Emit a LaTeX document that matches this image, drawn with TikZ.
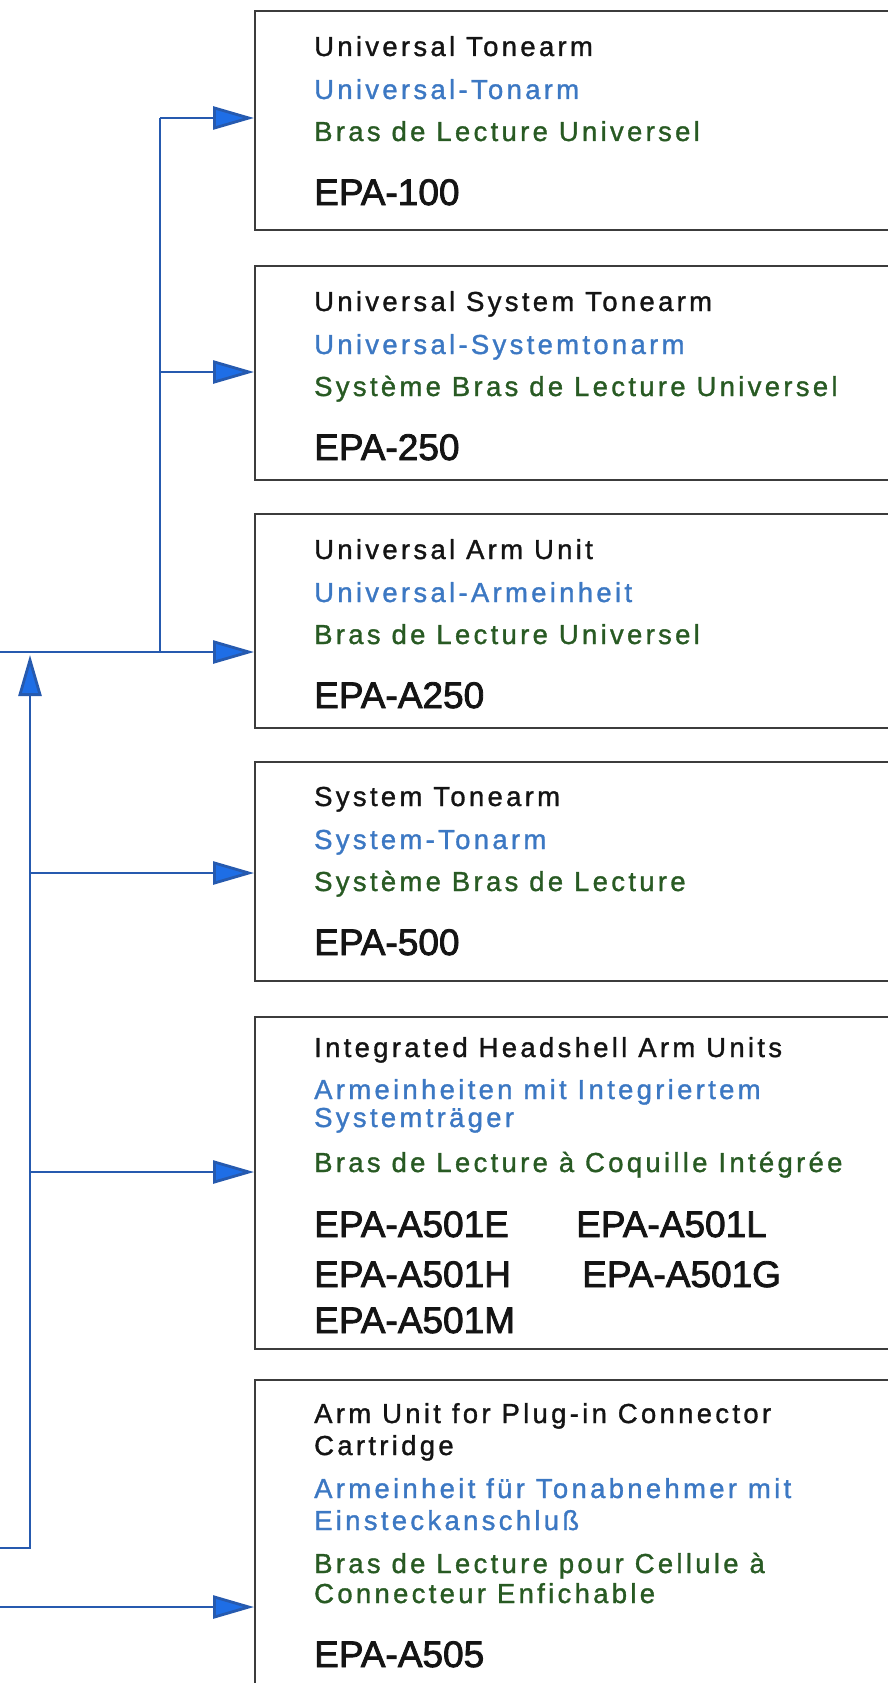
\documentclass[tikz,border=0pt]{standalone}
\usepackage{fontspec}
\setmainfont{Liberation Sans}
\newfontfamily\lblfont[LetterSpace=12,FakeBold=1.2]{Liberation Sans}
\newfontfamily\epafont[FakeBold=2.2]{Liberation Sans}
\usetikzlibrary{arrows.meta}
\definecolor{txtblack}{RGB}{20,20,20}
\definecolor{txtblue}{RGB}{60,120,195}
\definecolor{txtgreen}{RGB}{40,90,35}
\definecolor{linkblue}{RGB}{38,90,175}
\definecolor{headblue}{RGB}{30,110,230}
\definecolor{boxgray}{RGB}{60,60,60}
\begin{document}
\begin{tikzpicture}[x=1pt,y=-1pt,
  boxframe/.style={draw=boxgray, line width=1.8pt, anchor=north west, inner sep=0pt, minimum width=700pt},
  lbl/.style={anchor=base west, inner sep=0pt, font=\fontsize{27.5}{30}\lblfont},
  en/.style={lbl, text=txtblack},
  de/.style={lbl, text=txtblue},
  fr/.style={lbl, text=txtgreen},
  model/.style={anchor=base west, inner sep=0pt, font=\fontsize{37}{44}\epafont, text=txtblack},
  link/.style={draw=linkblue, line width=2.8pt},
  feed/.style={link, -{Triangle[length=41pt,width=23pt,fill=headblue]}},
]
\useasboundingbox (0,0) rectangle (888,1683);
\clip (0,0) rectangle (888,1683);

% boxes
\node[boxframe, minimum height=219pt] (b1) at (254,10) {};
\node[boxframe, minimum height=214pt] (b2) at (254,265) {};
\node[boxframe, minimum height=214pt] (b3) at (254,513) {};
\node[boxframe, minimum height=219pt] (b4) at (254,761) {};
\node[boxframe, minimum height=332pt] (b5) at (254,1016) {};
\node[boxframe, minimum height=400pt] (b6) at (254,1379) {};

% box 1
\node[en] (b1en) at (314,56) {Universal Tonearm};
\node[de] (b1de) at (314,99) {Universal-Tonarm};
\node[fr] (b1fr) at (314,141) {Bras de Lecture Universel};
\node[model] (b1m) at (314,205) {EPA-100};
% box 2
\node[en] (b2en) at (314,311) {Universal System Tonearm};
\node[de] (b2de) at (314,354) {Universal-Systemtonarm};
\node[fr] (b2fr) at (314,396) {Système Bras de Lecture Universel};
\node[model] (b2m) at (314,460) {EPA-250};
% box 3
\node[en] (b3en) at (314,559) {Universal Arm Unit};
\node[de] (b3de) at (314,602) {Universal-Armeinheit};
\node[fr] (b3fr) at (314,644) {Bras de Lecture Universel};
\node[model] (b3m) at (314,708) {EPA-A250};
% box 4
\node[en] (b4en) at (314,806) {System Tonearm};
\node[de] (b4de) at (314,849) {System-Tonarm};
\node[fr] (b4fr) at (314,891) {Système Bras de Lecture};
\node[model] (b4m) at (314,955) {EPA-500};
% box 5
\node[en] (b5en) at (314,1057) {Integrated Headshell Arm Units};
\node[de] (b5dea) at (314,1099) {Armeinheiten mit Integriertem};
\node[de] (b5deb) at (314,1127) {Systemträger};
\node[fr] (b5fr) at (314,1172) {Bras de Lecture à Coquille Intégrée};
\node[model] (b5ma) at (314,1237) {EPA-A501E};
\node[model] (b5mb) at (576,1237) {EPA-A501L};
\node[model] (b5mc) at (314,1287) {EPA-A501H};
\node[model] (b5md) at (582,1287) {EPA-A501G};
\node[model] (b5me) at (314,1333) {EPA-A501M};
% box 6
\node[en] (b6ena) at (314,1423) {Arm Unit for Plug-in Connector};
\node[en] (b6enb) at (314,1455) {Cartridge};
\node[de] (b6dea) at (314,1498) {Armeinheit für Tonabnehmer mit};
\node[de] (b6deb) at (314,1530) {Einsteckanschluß};
\node[fr] (b6fra) at (314,1573) {Bras de Lecture pour Cellule à};
\node[fr] (b6frb) at (314,1603) {Connecteur Enfichable};
\node[model] (b6m) at (314,1667) {EPA-A505};

% connector points
\coordinate (t1) at (160,118);
\coordinate (j2) at (160,372);
\coordinate (t3) at (160,652);
\coordinate (in3) at (0,652);
\coordinate (bl) at (0,1548);
\coordinate (up) at (30,1548);
\coordinate (up3) at (30,655);
\coordinate (j4) at (30,873);
\coordinate (j5) at (30,1172);
\coordinate (in6) at (0,1607);

\draw[link] (t1) -- (t3);
\draw[feed] (t1) -- (t1 -| b1.west);
\draw[feed] (j2) -- (j2 -| b2.west);
\draw[feed] (in3) -- (in3 -| b3.west);
\draw[feed] (bl) -- (up) -- (up3);
\draw[feed] (j4) -- (j4 -| b4.west);
\draw[feed] (j5) -- (j5 -| b5.west);
\draw[feed] (in6) -- (in6 -| b6.west);
\end{tikzpicture}
\end{document}
